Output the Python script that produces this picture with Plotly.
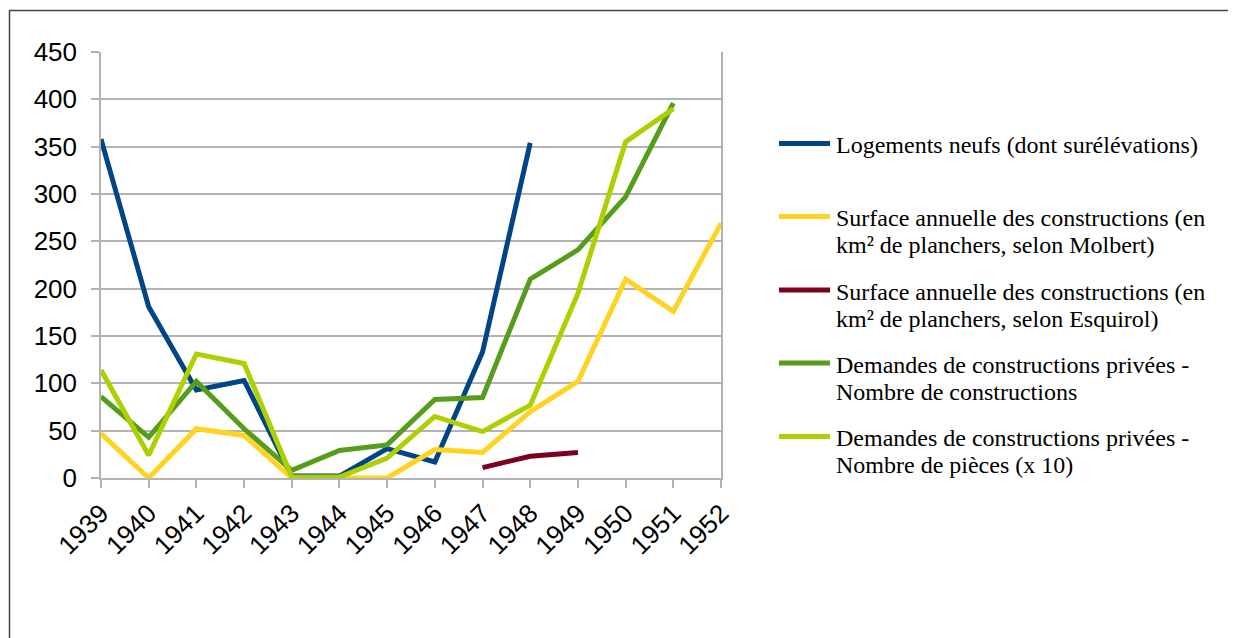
import plotly.graph_objects as go

years = list(range(1939, 1953))
legend_lines = [
    ["Logements neufs (dont surélévations)"],
    ["Surface annuelle des constructions (en", "km² de planchers, selon Molbert)"],
    ["Surface annuelle des constructions (en", "km² de planchers, selon Esquirol)"],
    ["Demandes de constructions privées -", "Nombre de constructions"],
    ["Demandes de constructions privées -", "Nombre de pièces (x 10)"],
]
logements = [358, 181, 93, 103, 2, 2, 31, 17, 133, 354, None, None, None, None]
surface_molbert = [47, 0, 52, 45, 0, 0, 0, 30, 27, 70, 102, 210, 176, 269]
surface_esquirol = [None, None, None, None, None, None, None, None, 11, 23, 27, None, None, None]
demandes_constr = [86, 43, 102, 52, 8, 29, 35, 83, 85, 210, 241, 297, 396, None]
demandes_pieces = [114, 24, 131, 121, 1, 1, 21, 65, 49, 77, 195, 355, 390, None]

colors = ["#004586", "#ffd320", "#7e0021", "#579d1c", "#aecf00"]
all_series = [logements, surface_molbert, surface_esquirol, demandes_constr, demandes_pieces]

# page offset (body margin) of 8px
OFF = 8
W, H = 1236 - OFF, 638 - OFF
L, R, T, B = 101, 721, 52, 478  # plot area in page pixels


def px(x):
    return (x - L) / (R - L)


def py(y):
    return (B - y) / (B - T)


fig = go.Figure()
for lines, vals, col in zip(legend_lines, all_series, colors):
    fig.add_trace(go.Scatter(
        x=years, y=vals, mode="lines", name=" ".join(lines),
        line=dict(color=col, width=5), connectgaps=False, showlegend=False,
    ))

shapes = []
annotations = []
# chart outer border
shapes.append(dict(type="rect", xref="paper", yref="paper",
                   x0=px(9.5), x1=px(1235), y0=py(700), y1=py(10.5),
                   line=dict(color="#444444", width=1.5), fillcolor="rgba(0,0,0,0)", layer="below"))

legend_sym_y = [143.5, 216.5, 290, 363, 436.5]
line_gap = 27
for lines, col, ly in zip(legend_lines, colors, legend_sym_y):
    shapes.append(dict(type="line", xref="paper", yref="paper",
                       x0=px(779), x1=px(830), y0=py(ly), y1=py(ly),
                       line=dict(color=col, width=5)))
    for i, txt in enumerate(lines):
        annotations.append(dict(xref="paper", yref="paper", x=px(834), y=py(ly + 1.5 + i * line_gap),
                                xanchor="left", yanchor="middle", align="left", showarrow=False,
                                text=txt, font=dict(family="Liberation Serif", size=24, color="#000000")))

fig.update_layout(
    width=W, height=H,
    margin=dict(l=L - OFF, r=W - (R - OFF), t=T - OFF, b=H - (B - OFF), pad=0),
    paper_bgcolor="white", plot_bgcolor="white",
    shapes=shapes, annotations=annotations,
    showlegend=False,
    xaxis=dict(
        range=[1939, 1952], tickmode="array", tickvals=years, ticktext=[str(y) for y in years],
        tickangle=-45, showgrid=False, zeroline=False,
        showline=True, linecolor="#b3b3b3", linewidth=1.5,
        ticks="outside", ticklen=8, tickcolor="#b3b3b3", tickwidth=1.5,
        tickfont=dict(family="Liberation Sans", size=26, color="#000000"),
    ),
    yaxis=dict(
        range=[0, 450], tickmode="array", tickvals=list(range(0, 451, 50)),
        showgrid=True, gridcolor="#b3b3b3", gridwidth=1.5, zeroline=False,
        showline=True, mirror=True, linecolor="#b3b3b3", linewidth=1.5,
        ticks="outside", ticklen=8, tickcolor="#b3b3b3", tickwidth=1.5,
        ticklabelstandoff=9,
        tickfont=dict(family="Liberation Sans", size=26, color="#000000"),
    ),
)

fig.write_html("out.html")
